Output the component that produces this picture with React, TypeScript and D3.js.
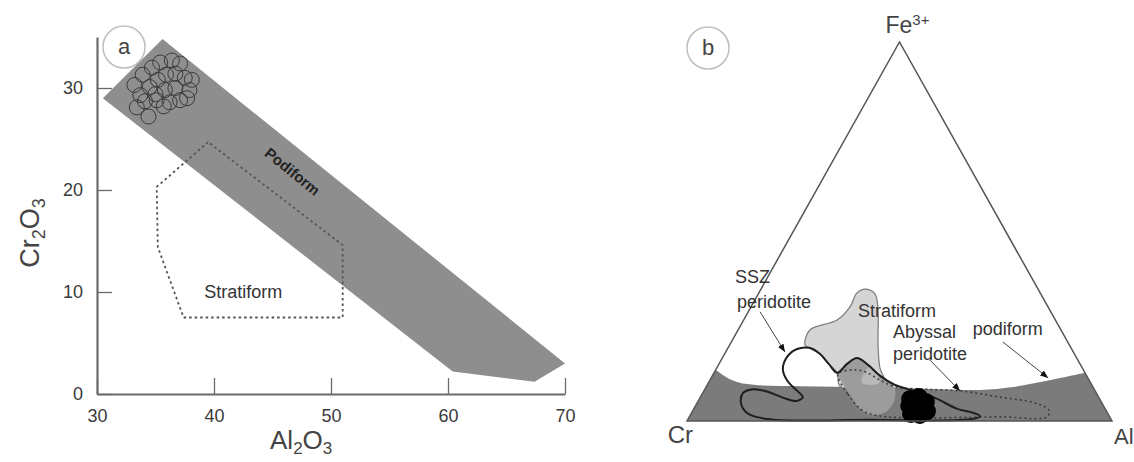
import * as d3 from 'd3';
import { useEffect, useRef } from 'react';

// ---------- panel a : Al2O3 vs Cr2O3 (wt%) ----------
const xTicks = [30, 40, 50, 60, 70];
const yTicks = [0, 10, 20, 30];
// [Al2O3, Cr2O3]
const podiformBand = [[35.6, 34.8], [30.5, 29.0], [60.4, 2.2], [67.4, 1.2], [70, 3.0]];
const stratiformField = [[39.5, 24.7], [35.1, 20.3], [35.2, 14.4], [37.4, 7.5], [51.0, 7.5], [51.0, 14.6]];
const samples = [
  [34.4, 27.2], [33.4, 28.1], [33.2, 30.3], [33.7, 29.3], [33.9, 31.3], [34.7, 32.0], [35.4, 32.5],
  [36.4, 32.7], [37.1, 32.4], [34.5, 30.1], [35.2, 30.8], [35.9, 31.3], [36.7, 31.4], [37.5, 31.0],
  [37.9, 29.8], [37.7, 29.0], [37.1, 28.8], [36.2, 28.6], [35.7, 28.2], [35.1, 28.8], [35.8, 29.8],
  [36.7, 30.0], [34.1, 28.7], [35.0, 29.4], [38.1, 30.8],
];

// ---------- panel b : Cr - Al - Fe3+ ternary ----------
// points are [Al, Fe3+] in %, Cr = 100 - Al - Fe
const podiformTop = [[0, 13.5], [4.0, 11.3], [8.8, 9.8], [22.0, 9.2], [38.6, 9.0], [55.3, 8.4], [64.9, 8.2], [72.2, 9.0], [79.4, 10.6], [87.3, 12.7]];
const stratiformB = [
  [17.7, 20.1], [16.9, 24.0], [22.0, 26.65], [23.3, 30.1], [23.1, 33.8], [24.7, 34.8], [27.5, 33.5], [30.3, 29.3],
  [34.9, 20.1], [38.4, 14.0], [42.2, 9.2], [31.4, 9.2], [29.0, 12.7], [25.9, 15.0], [22.45, 17.7], [19.1, 19.3],
];
const overlapWedge = [[29.0, 12.7], [30.1, 15.0], [31.7, 16.6], [35.2, 14.8], [39.5, 11.9], [44.1, 9.2], [45.9, 6.1], [45.7, 2.6], [42.7, 1.6], [39.5, 2.9], [34.9, 6.9], [31.5, 10.0]];
const overlapCore = [[36.2, 10.0], [35.3, 12.7], [35.9, 14.25], [38.4, 12.7], [40.2, 10.0]];
const sszOutline = [
  [18.6, 0.5], [42.9, 0.3], [66.8, 0.5], [68.3, 1.3], [65.4, 2.4], [62.0, 3.2], [55.3, 6.1], [49.7, 7.9],
  [44.2, 9.5], [39.5, 11.9], [35.2, 14.8], [31.7, 16.6], [30.1, 15.0], [29.0, 12.7], [25.9, 15.0], [22.45, 17.7],
  [19.1, 19.3], [16.4, 19.0], [15.1, 16.9], [15.7, 13.7], [18.3, 10.6], [21.6, 8.2], [24.1, 6.3], [23.2, 5.3],
  [19.6, 6.1], [15.2, 7.7], [11.5, 8.4], [9.5, 7.4], [10.3, 4.8], [13.1, 2.1],
];
const abyssalOutline = [
  [29.3, 12.4], [34.3, 7.1], [39.7, 2.9], [44.75, 1.3], [73.1, 1.1], [84.2, 1.1], [83.7, 2.9], [79.5, 4.75],
  [70.5, 6.3], [60.75, 7.9], [51.8, 8.4], [44.5, 9.0], [40.0, 10.8], [35.65, 12.9], [32.1, 13.5],
];
const chromites = [[49.6, 5.8], [51.4, 6.3], [53.7, 5.0], [55.15, 2.6], [54.0, 1.6], [51.8, 1.85], [50.3, 4.0], [52.4, 4.0]];
const arrows = [
  [[2.8, 28.8], [13.95, 18.2]],
  [[49.1, 16.1], [60.3, 7.9]],
  [[63.9, 20.85], [79.3, 11.35]],
];
const fieldLabels: [string, number, number][] = [
  ['SSZ', -6.9, 36.4],
  ['peridotite', -3.15, 29.8],
  ['Stratiform', 26.5, 27.45],
  ['Abyssal', 37.5, 21.9],
  ['peridotite', 40.4, 16.1],
  ['podiform', 55.9, 22.7],
];

const font = 'Liberation Sans, Arial, sans-serif';

export default function App() {
  const ref = useRef<SVGSVGElement>(null);

  useEffect(() => {
    document.body.style.margin = '0';
    const svg = d3.select(ref.current);
    svg.selectAll('*').remove();

    // ===== panel a =====
    const x = d3.scaleLinear().domain([30, 70]).range([97, 565]);
    const y = d3.scaleLinear().domain([0, 35]).range([394, 37]);
    const a = svg.append('g');
    const closedA = d3.line<number[]>().x(d => x(d[0])).y(d => y(d[1])).curve(d3.curveLinearClosed);

    a.append('path').attr('d', closedA(podiformBand)).attr('fill', '#8e8e8e');
    a.append('path').attr('d', closedA(stratiformField))
      .attr('fill', 'none').attr('stroke', '#555').attr('stroke-width', 1.8).attr('stroke-dasharray', '2.5,3');

    a.selectAll('circle.s').data(samples).enter().append('circle')
      .attr('cx', d => x(d[0])).attr('cy', d => y(d[1])).attr('r', 7.5)
      .attr('fill', 'none').attr('stroke', '#3a3a3a').attr('stroke-width', 1);

    const xAxis = a.append('g').attr('transform', `translate(0,${y(0)})`)
      .call(d3.axisBottom(x).tickValues(xTicks).tickSizeInner(-16).tickSizeOuter(0).tickPadding(15));
    const yAxis = a.append('g').attr('transform', `translate(${x(30)},0)`)
      .call(d3.axisLeft(y).tickValues(yTicks).tickSizeInner(-15).tickSizeOuter(0).tickPadding(14));
    [xAxis, yAxis].forEach(g => {
      g.attr('font-size', 18).attr('font-family', font).style('color', '#6b6b6b');
      g.select('.domain').attr('stroke-width', 2.2);
      g.selectAll('.tick line').attr('stroke-width', 1.3);
      g.selectAll('text').attr('fill', '#3a3a3a');
    });

    // band angle for the Podiform label
    const ang = Math.atan2(y(podiformBand[4][1]) - y(podiformBand[0][1]), x(podiformBand[4][0]) - x(podiformBand[0][0])) * 180 / Math.PI;
    a.append('text').attr('transform', `translate(${x(46.7)},${y(21.8)}) rotate(${ang})`)
      .attr('text-anchor', 'middle').attr('dy', '0.35em').attr('font-family', font)
      .attr('font-size', 15).attr('font-weight', 'bold').attr('fill', '#222').text('Podiform');
    a.append('text').attr('x', x(42.5)).attr('y', y(10)).attr('dy', '0.35em').attr('text-anchor', 'middle')
      .attr('font-family', font).attr('font-size', 18).attr('fill', '#333').text('Stratiform');

    const xl = a.append('text').attr('x', 270).attr('y', 449).attr('font-family', font).attr('font-size', 26).attr('fill', '#444');
    xl.append('tspan').text('Al');
    xl.append('tspan').attr('font-size', 17).attr('dy', 5).text('2');
    xl.append('tspan').attr('dy', -5).text('O');
    xl.append('tspan').attr('font-size', 17).attr('dy', 5).text('3');

    const yl = a.append('text').attr('transform', 'translate(39,233) rotate(-90)').attr('text-anchor', 'middle')
      .attr('font-family', font).attr('font-size', 27).attr('fill', '#444');
    yl.append('tspan').text('Cr');
    yl.append('tspan').attr('font-size', 18).attr('dy', 6).text('2');
    yl.append('tspan').attr('dy', -6).text('O');
    yl.append('tspan').attr('font-size', 18).attr('dy', 6).text('3');

    // ===== panel b =====
    const tx = d3.scaleLinear().domain([0, 100]).range([687, 1112]);
    const ty = d3.scaleLinear().domain([0, 100]).range([421, 42]);
    const P = (d: number[]): [number, number] => [tx(d[0] + d[1] / 2), ty(d[1])];
    const b = svg.append('g');
    const smoothClosed = d3.line<number[]>().x(d => P(d)[0]).y(d => P(d)[1]).curve(d3.curveCatmullRomClosed.alpha(0.5));
    const smoothOpen = d3.line<number[]>().x(d => P(d)[0]).y(d => P(d)[1]).curve(d3.curveCatmullRom.alpha(0.5));

    const Cr = P([0, 0]), Al = P([100, 0]), Fe = P([0, 100]);
    b.append('path').attr('d', `${smoothOpen(podiformTop)}L${Al[0]},${Al[1]}L${Cr[0]},${Cr[1]}Z`).attr('fill', '#7b7b7b');
    b.append('path').attr('d', smoothClosed(stratiformB)).attr('fill', '#d5d5d5').attr('stroke', '#7a7a7a').attr('stroke-width', 1.2);
    b.append('path').attr('d', smoothClosed(overlapWedge)).attr('fill', '#9c9c9c');
    b.append('path').attr('d', smoothClosed(overlapCore)).attr('fill', '#b8b8b8');
    b.append('path').attr('d', smoothClosed(abyssalOutline)).attr('fill', 'none')
      .attr('stroke', '#3c3c3c').attr('stroke-width', 1.6).attr('stroke-dasharray', '2,3');
    b.append('path').attr('d', smoothClosed(sszOutline)).attr('fill', 'none').attr('stroke', '#1e1e1e').attr('stroke-width', 2);

    b.selectAll('circle.c').data(chromites).enter().append('circle')
      .attr('cx', d => P(d)[0]).attr('cy', d => P(d)[1]).attr('r', 9).attr('fill', '#000');

    b.append('path').attr('d', `M${Cr[0]},${Cr[1]}L${Al[0]},${Al[1]}L${Fe[0]},${Fe[1]}Z`)
      .attr('fill', 'none').attr('stroke', '#555').attr('stroke-width', 1.5).attr('stroke-linejoin', 'miter');

    const defs = svg.append('defs');
    defs.append('marker').attr('id', 'arr').attr('viewBox', '0 0 10 10').attr('refX', 10).attr('refY', 5)
      .attr('markerWidth', 8).attr('markerHeight', 8).attr('markerUnits', 'userSpaceOnUse').attr('orient', 'auto')
      .append('path').attr('d', 'M0,1L10,5L0,9Z').attr('fill', '#111');
    b.selectAll('line.ar').data(arrows).enter().append('line')
      .attr('x1', d => P(d[0])[0]).attr('y1', d => P(d[0])[1])
      .attr('x2', d => P(d[1])[0]).attr('y2', d => P(d[1])[1])
      .attr('stroke', '#444').attr('stroke-width', 1).attr('marker-end', 'url(#arr)');

    b.selectAll('text.fl').data(fieldLabels).enter().append('text')
      .attr('x', d => P([d[1], d[2]])[0]).attr('y', d => P([d[1], d[2]])[1])
      .attr('font-family', font).attr('font-size', 18).attr('fill', '#333').text(d => d[0]);

    const fe = b.append('text').attr('x', Fe[0] - 14).attr('y', Fe[1] - 9).attr('font-family', font).attr('font-size', 23).attr('fill', '#444');
    fe.append('tspan').text('Fe');
    fe.append('tspan').attr('font-size', 15).attr('dy', -8).text('3+');
    b.append('text').attr('x', Cr[0] + 6).attr('y', Cr[1] + 22).attr('text-anchor', 'end')
      .attr('font-family', font).attr('font-size', 24).attr('fill', '#444').text('Cr');
    b.append('text').attr('x', Al[0] + 2).attr('y', Al[1] + 23)
      .attr('font-family', font).attr('font-size', 22).attr('fill', '#444').text('Al');

    // panel badges
    [['a', 124, 47], ['b', 708, 48]].forEach(([t, cx, cy]) => {
      svg.append('circle').attr('cx', cx as number).attr('cy', cy as number).attr('r', 21)
        .attr('fill', 'none').attr('stroke', '#bdbdbd').attr('stroke-width', 1.5);
      svg.append('text').attr('x', cx as number).attr('y', (cy as number) + 7).attr('text-anchor', 'middle')
        .attr('font-family', font).attr('font-size', 22).attr('fill', '#444').text(t as string);
    });
  }, []);

  return (
    <svg ref={ref} width={1134} height={462} style={{ display: 'block', background: '#fff' }} />
  );
}
